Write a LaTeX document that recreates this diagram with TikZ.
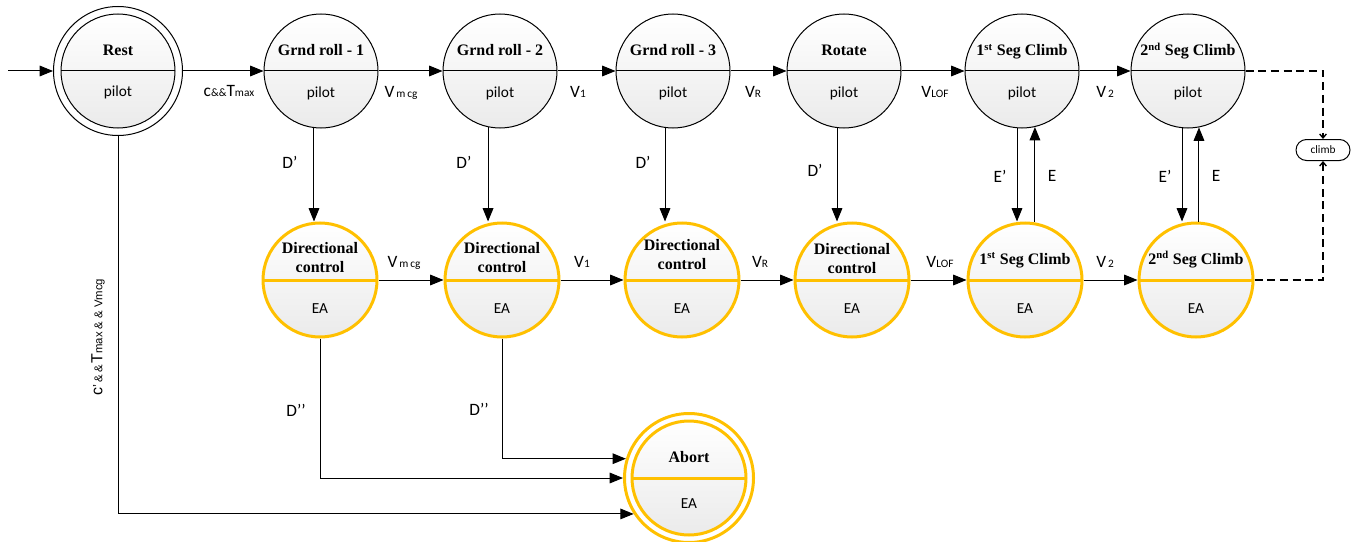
\documentclass[tikz,border=0pt]{standalone}
\usepackage{fontspec}
\setmainfont{Liberation Serif}
\newfontfamily\calib{Carlito}
\newfontfamily\arialf{Liberation Sans}
\usetikzlibrary{arrows.meta,shapes.misc}
\definecolor{gold}{HTML}{FFC000}

% large / small glyphs used in the transition labels
\newcommand\lbig[1]{{\fontsize{13}{15}\selectfont #1}}
\newcommand\lsm[1]{{\fontsize{8.5}{10}\selectfont #1}}

\tikzset{
  stfill/.style={top color=white, bottom color=black!8},
  pst/.style={circle, minimum size=85.5pt, inner sep=0pt, draw=black, line width=0.75pt, stfill,
    path picture={\draw[black, line width=0.75pt] (path picture bounding box.west) -- (path picture bounding box.east);}},
  est/.style={circle, minimum size=85.5pt, inner sep=0pt, draw=gold, line width=2.25pt, stfill,
    path picture={\draw[gold, line width=2.25pt] (path picture bounding box.west) -- (path picture bounding box.east);}},
  ringblack/.style={circle, minimum size=96.75pt, inner sep=0pt, draw=black, line width=0.75pt},
  ringgold/.style={circle, minimum size=96.75pt, inner sep=0pt, draw=gold, line width=2.25pt},
  ttl/.style={anchor=base, inner sep=0pt, font=\fontsize{12}{14}\selectfont\bfseries},
  rl/.style={anchor=base, inner sep=0pt, font=\calib\fontsize{11.5}{13}\selectfont},
  elab/.style={anchor=base, inner sep=0pt, font=\calib},
  dl/.style={inner sep=0pt, font=\calib\fontsize{13}{15}\selectfont},
  arr/.style={line width=0.75pt, -{Triangle[length=10pt,width=8pt]}},
  dsh/.style={line width=1.5pt, dash pattern=on 6pt off 3.5pt, -{Straight Barb[length=3pt,width=5pt,line width=1pt]}},
  climbbox/.style={rounded rectangle, draw, line width=0.75pt, minimum width=40.5pt, minimum height=15.75pt, inner sep=0pt, font=\calib\fontsize{8.5}{10}\selectfont},
}

% a state: circle with divider, bold title above, role below
% #1 style, #2 name, #3 position, #4 title baseline offset, #5 title, #6 role baseline offset, #7 role
\newcommand\mkstate[7]{%
  \node[#1] (#2) at (#3) {};
  \node[ttl] (#2-t) at ([yshift=#4]#2.center) {#5};
  \node[rl] (#2-r) at ([yshift=-#6]#2.center) {#7};
}

\begin{document}
\begin{tikzpicture}[x=0.75pt,y=-0.75pt]
\useasboundingbox (0,0) rectangle (1356,542);

% ---- pilot states
\node[ringblack] (rest-o) at (118,71) {};
\mkstate{pst}{rest}{118,71}{11.25pt}{Rest}{19.5pt}{pilot}
\mkstate{pst}{g1}{321,71}{11.25pt}{Grnd roll - 1}{20.25pt}{pilot}
\mkstate{pst}{g2}{500,71}{11.25pt}{Grnd roll - 2}{20.25pt}{pilot}
\mkstate{pst}{g3}{673,71}{11.25pt}{Grnd roll - 3}{20.25pt}{pilot}
\mkstate{pst}{g4}{844,71}{11.25pt}{Rotate}{20.25pt}{pilot}
\mkstate{pst}{g5}{1022,71}{11.25pt}{1\textsuperscript{st} Seg Climb}{20.25pt}{pilot}
\mkstate{pst}{g6}{1188,71}{11.25pt}{2\textsuperscript{nd} Seg Climb}{20.25pt}{pilot}

% ---- EA states
\mkstate{est}{d1}{320,280}{6pt}{\begin{tabular}[b]{@{}c@{}}Directional\\control\end{tabular}}{24.75pt}{EA}
\mkstate{est}{d2}{502,280}{6pt}{\begin{tabular}[b]{@{}c@{}}Directional\\control\end{tabular}}{24.75pt}{EA}
\mkstate{est}{d3}{682,280}{8.25pt}{\begin{tabular}[b]{@{}c@{}}Directional\\control\end{tabular}}{24.75pt}{EA}
\mkstate{est}{d4}{852,280}{5.25pt}{\begin{tabular}[b]{@{}c@{}}Directional\\control\end{tabular}}{24.75pt}{EA}
\mkstate{est}{s1}{1025,280}{12pt}{1\textsuperscript{st} Seg Climb}{24.75pt}{EA}
\mkstate{est}{s2}{1196,280}{12pt}{2\textsuperscript{nd} Seg Climb}{24.75pt}{EA}

% ---- abort state
\node[ringgold] (ab-o) at (689,478) {};
\mkstate{est}{ab}{689,478}{12pt}{Abort}{22.5pt}{EA}

% ---- climb terminal
\node[climbbox] (climb) at (1323,150) {climb};

% ---- top row transitions
\coordinate (start) at (8,71);
\draw[arr] (start) -- (rest-o.west);
\draw[arr] (rest-o.east) -- (g1.west);
\draw[arr] (g1.east) -- (g2.west);
\draw[arr] (g2.east) -- (g3.west);
\draw[arr] (g3.east) -- (g4.west);
\draw[arr] (g4.east) -- (g5.west);
\draw[arr] (g5.east) -- (g6.west);

\node[elab] (t1) at (229,97) {\lbig{c}\lsm{\&\&}\lbig{T}\lsm{max}};
\node[elab] (t2) at (401,98) {\lbig{V}\lsm{\,m\,cg}};
\node[elab] (t3) at (578,98) {\lbig{V}\lsm{1}};
\node[elab] (t4) at (753,98) {\lbig{V}\lsm{R}};
\node[elab] (t5) at (935,98) {\lbig{V}\lsm{LOF}};
\node[elab] (t6) at (1105,98) {\lbig{V}\lsm{\,2}};

% ---- pilot to EA
\draw[arr] (g1.-97) -- (g1.-97 |- d1.north);
\draw[arr] (g2.-102.5) -- (g2.-102.5 |- d2.north);
\draw[arr] (g3.-98) -- (g3.-98 |- d3.north);
\draw[arr] (g4.-97) -- (g4.-97 |- d4.north);
\draw[arr] (g5.-95.5) -- (g5.-95.5 |- s1.north);
\draw[arr] (g5.-77 |- s1.north) -- (g5.-77);
\draw[arr] (g6.-96) -- (g6.-96 |- s2.north);
\draw[arr] (g6.-79 |- s2.north) -- (g6.-79);

\node[dl] (dp1) at (290,162) {D’};
\node[dl] (dp2) at (464,162) {D’};
\node[dl] (dp3) at (643,162) {D’};
\node[dl] (dp4) at (815,170) {D’};
\node[dl] (ep1) at (1000,176) {E’};
\node[dl] (e1) at (1052,176) {E};
\node[dl] (ep2) at (1165,176) {E’};
\node[dl] (e2) at (1216,176) {E};

% ---- bottom row transitions
\draw[arr] (d1.east) -- (d2.west);
\draw[arr] (d2.east) -- (d3.west);
\draw[arr] (d3.east) -- (d4.west);
\draw[arr] (d4.east) -- (s1.west);
\draw[arr] (s1.east) -- (s2.west);

\node[elab] (b1) at (404,267) {\lbig{V}\lsm{\,m\,cg}};
\node[elab] (b2) at (582,267) {\lbig{V}\lsm{1}};
\node[elab] (b3) at (760,267) {\lbig{V}\lsm{R}};
\node[elab] (b4) at (940,267) {\lbig{V}\lsm{LOF}};
\node[elab] (b5) at (1105,267) {\lbig{V}\lsm{\,2}};

% ---- to climb
\draw[dsh] (g6.east) -| (climb.north);
\draw[dsh] (s2.east) -| (climb.south);

% ---- to abort
\draw[arr] (d1.south) |- (ab-o.west);
\draw[arr] (d2.south) |- (ab-o.163);
\draw[arr] (rest-o.south) |- (ab-o.213);

\node[dl] (dd1) at (296,410) {D’’};
\node[dl] (dd2) at (479,409) {D’’};
\node[rotate=90, inner sep=0pt, font=\arialf] (ra) at (98,337)
  {{\fontsize{12}{13}\selectfont c}’{\fontsize{8.5}{9}\selectfont\,\&\,\&\,}{\fontsize{12}{13}\selectfont T}{\fontsize{8.5}{9}\selectfont max \& \& Vmcg}};

\end{tikzpicture}
\end{document}
